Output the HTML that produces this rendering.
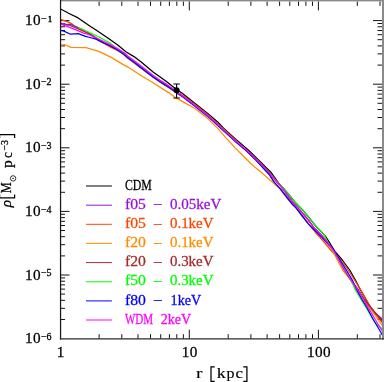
<!DOCTYPE html>
<html><head><meta charset="utf-8"><title>Density profiles</title>
<style>
html,body{margin:0;padding:0;background:#fff;}
body{width:384px;height:382px;overflow:hidden;position:relative;font-family:"Liberation Serif",serif;}
svg text{font-family:"Liberation Serif",serif;}
</style></head><body>
<svg width="384" height="382" viewBox="0 0 384 382" style="position:absolute;left:0;top:0;will-change:transform;transform:translateZ(0)">
<rect x="0" y="0" width="384" height="382" fill="#fff"/>
<path d="M99.1 338.7L99.1 334.2M99.1 1.4L99.1 5.9M121.8 338.7L121.8 334.2M121.8 1.4L121.8 5.9M138.0 338.7L138.0 334.2M138.0 1.4L138.0 5.9M150.5 338.7L150.5 334.2M150.5 1.4L150.5 5.9M160.7 338.7L160.7 334.2M160.7 1.4L160.7 5.9M169.4 338.7L169.4 334.2M169.4 1.4L169.4 5.9M176.8 338.7L176.8 334.2M176.8 1.4L176.8 5.9M183.4 338.7L183.4 334.2M183.4 1.4L183.4 5.9M189.3 338.7L189.3 329.7M189.3 1.4L189.3 10.4M228.2 338.7L228.2 334.2M228.2 1.4L228.2 5.9M250.9 338.7L250.9 334.2M250.9 1.4L250.9 5.9M267.1 338.7L267.1 334.2M267.1 1.4L267.1 5.9M279.6 338.7L279.6 334.2M279.6 1.4L279.6 5.9M289.8 338.7L289.8 334.2M289.8 1.4L289.8 5.9M298.5 338.7L298.5 334.2M298.5 1.4L298.5 5.9M305.9 338.7L305.9 334.2M305.9 1.4L305.9 5.9M312.5 338.7L312.5 334.2M312.5 1.4L312.5 5.9M318.4 338.7L318.4 329.7M318.4 1.4L318.4 10.4M357.3 338.7L357.3 334.2M357.3 1.4L357.3 5.9M380.0 338.7L380.0 334.2M380.0 1.4L380.0 5.9M60.5 319.5L65.0 319.5M382.0 319.5L377.5 319.5M60.5 308.3L65.0 308.3M382.0 308.3L377.5 308.3M60.5 300.3L65.0 300.3M382.0 300.3L377.5 300.3M60.5 294.1L65.0 294.1M382.0 294.1L377.5 294.1M60.5 289.1L65.0 289.1M382.0 289.1L377.5 289.1M60.5 284.9L65.0 284.9M382.0 284.9L377.5 284.9M60.5 281.2L65.0 281.2M382.0 281.2L377.5 281.2M60.5 277.9L65.0 277.9M382.0 277.9L377.5 277.9M60.5 275.0L69.5 275.0M382.0 275.0L373.0 275.0M60.5 255.9L65.0 255.9M382.0 255.9L377.5 255.9M60.5 244.7L65.0 244.7M382.0 244.7L377.5 244.7M60.5 236.7L65.0 236.7M382.0 236.7L377.5 236.7M60.5 230.5L65.0 230.5M382.0 230.5L377.5 230.5M60.5 225.5L65.0 225.5M382.0 225.5L377.5 225.5M60.5 221.3L65.0 221.3M382.0 221.3L377.5 221.3M60.5 217.6L65.0 217.6M382.0 217.6L377.5 217.6M60.5 214.3L65.0 214.3M382.0 214.3L377.5 214.3M60.5 211.4L69.5 211.4M382.0 211.4L373.0 211.4M60.5 192.3L65.0 192.3M382.0 192.3L377.5 192.3M60.5 181.1L65.0 181.1M382.0 181.1L377.5 181.1M60.5 173.1L65.0 173.1M382.0 173.1L377.5 173.1M60.5 166.9L65.0 166.9M382.0 166.9L377.5 166.9M60.5 161.9L65.0 161.9M382.0 161.9L377.5 161.9M60.5 157.7L65.0 157.7M382.0 157.7L377.5 157.7M60.5 154.0L65.0 154.0M382.0 154.0L377.5 154.0M60.5 150.7L65.0 150.7M382.0 150.7L377.5 150.7M60.5 147.8L69.5 147.8M382.0 147.8L373.0 147.8M60.5 128.7L65.0 128.7M382.0 128.7L377.5 128.7M60.5 117.5L65.0 117.5M382.0 117.5L377.5 117.5M60.5 109.5L65.0 109.5M382.0 109.5L377.5 109.5M60.5 103.3L65.0 103.3M382.0 103.3L377.5 103.3M60.5 98.3L65.0 98.3M382.0 98.3L377.5 98.3M60.5 94.1L65.0 94.1M382.0 94.1L377.5 94.1M60.5 90.4L65.0 90.4M382.0 90.4L377.5 90.4M60.5 87.1L65.0 87.1M382.0 87.1L377.5 87.1M60.5 84.2L69.5 84.2M382.0 84.2L373.0 84.2M60.5 65.1L65.0 65.1M382.0 65.1L377.5 65.1M60.5 53.9L65.0 53.9M382.0 53.9L377.5 53.9M60.5 45.9L65.0 45.9M382.0 45.9L377.5 45.9M60.5 39.7L65.0 39.7M382.0 39.7L377.5 39.7M60.5 34.7L65.0 34.7M382.0 34.7L377.5 34.7M60.5 30.5L65.0 30.5M382.0 30.5L377.5 30.5M60.5 26.8L65.0 26.8M382.0 26.8L377.5 26.8M60.5 23.5L65.0 23.5M382.0 23.5L377.5 23.5M60.5 20.6L69.5 20.6M382.0 20.6L373.0 20.6" stroke="#151515" stroke-width="1" fill="none"/>
<g fill="none" stroke-width="1.25" stroke-linejoin="round">
<path d="M60.5 9.0L66.4 12.0L68.6 13.2L78.1 17.9L89.8 26.0L96.0 30.0L108.6 38.6L117.4 44.8L126.2 52.0L134.0 56.6L140.6 61.6L153.1 72.1L165.7 80.9L176.0 89.0L182.6 93.4L195.1 103.5L207.7 113.5L218.0 122.3L223.5 128.2L236.0 139.5L248.6 150.2L257.5 158.9L271.6 173.0L276.5 180.0L280.3 185.2L283.4 188.2L289.7 195.7L296.0 203.3L302.3 209.7L308.6 217.2L316.8 227.3L324.2 234.9L325.4 236.2L328.6 241.2L334.9 251.3L342.3 260.0L349.7 270.0L355.4 280.0L360.5 290.0L366.3 300.0L370.8 308.0L382.0 321.5L383.0 322.6" stroke="#000000"/>
<path d="M60.5 23.3L66.4 24.6L71.0 24.4L74.0 26.0L76.4 27.0L90.0 33.8L102.3 42.2L111.1 46.2L117.4 49.7L123.7 53.8L128.0 57.6L134.0 62.0L140.6 67.1L153.1 76.7L160.7 81.9L165.7 85.0L172.0 89.2L176.0 92.0L182.6 96.1L195.1 105.6L207.7 115.6L218.0 125.0L222.6 129.3L235.1 140.6L247.7 151.3L256.6 160.0L269.1 172.6L275.3 180.0L280.3 185.7L286.6 193.8L294.1 204.0L296.0 205.9L302.3 212.8L308.6 220.4L314.2 228.0L322.3 236.2L328.6 243.7L334.5 252.0L338.9 260.0L344.4 270.0L350.8 280.0L358.6 290.0L365.4 302.0L371.0 308.0L374.0 312.0L382.0 318.7L383.0 319.6" stroke="#9910dd"/>
<path d="M60.5 19.4L70.6 22.9L74.8 26.0L78.9 28.8L85.6 32.0L90.0 34.6L98.6 40.4L111.0 47.4L116.9 50.1L123.2 54.2L127.5 58.0L133.5 62.4L140.1 67.5L152.6 77.1L160.2 82.3L165.2 85.4L171.5 89.6L176.4 91.4L183.0 95.5L195.5 105.0L208.1 115.0L218.4 124.4L223.0 128.7L235.5 140.0L247.2 151.7L256.1 160.4L268.6 173.0L274.0 181.9L280.3 188.8L286.6 197.0L292.2 204.0L296.0 207.8L302.3 216.0L308.6 224.1L311.7 227.5L316.0 233.0L322.3 240.0L328.6 247.5L332.4 252.0L341.0 260.0L348.2 270.0L354.5 280.0L360.8 290.0L366.5 300.0L371.2 308.0L382.0 322.5L383.0 323.7" stroke="#ff4500"/>
<path d="M60.5 45.2L64.4 44.5L71.0 47.4L86.0 47.6L97.9 51.1L101.0 52.4L111.1 57.4L123.7 64.9L128.0 67.1L134.0 71.0L140.6 75.2L153.1 82.8L165.7 90.9L170.0 93.4L176.0 97.9L182.6 101.6L195.1 108.5L207.7 118.5L210.0 120.9L218.0 128.6L222.6 134.1L235.1 147.9L244.0 156.7L250.3 163.0L256.6 168.6L262.8 173.6L269.1 179.3L275.4 184.9L279.2 188.1L286.6 197.0L292.2 204.0L296.0 207.8L302.3 216.0L308.6 224.1L316.0 230.5L322.3 236.8L328.6 244.5L331.0 248.0L333.2 252.0L337.3 260.0L343.0 270.5L350.6 280.0L357.6 290.0L364.2 300.0L369.6 308.0L382.0 325.0L383.0 326.3" stroke="#ff8c00"/>
<path d="M60.5 23.0L70.0 25.5L90.0 34.0L102.3 42.0L111.1 46.0L117.4 49.5L123.7 53.6L128.0 57.4L134.0 61.8L140.6 66.9L153.1 76.5L160.7 81.7L165.7 84.8L172.0 89.0L176.0 91.8L182.6 95.9L195.1 105.4L207.7 115.4L218.0 124.8L222.6 129.1L235.1 140.4L247.7 151.1L256.6 159.8L269.1 172.4L275.3 180.0L280.3 185.7L286.6 193.8L294.1 204.0L296.0 205.9L302.3 212.8L308.6 220.4L314.2 228.0L322.3 236.2L328.6 243.7L334.5 252.0L338.9 260.0L344.4 270.0L350.8 280.0L357.8 290.0L364.8 300.0L371.3 308.0L382.0 320.6L383.0 321.6" stroke="#a52a2a"/>
<path d="M60.5 23.3L66.4 24.6L71.0 24.4L74.0 26.0L76.4 27.0L80.6 28.3L86.0 31.0L98.6 36.7L109.9 43.0L117.4 49.2L123.7 53.6L128.0 57.4L134.0 61.8L140.6 66.9L153.1 76.5L160.7 81.7L165.7 84.8L172.0 89.0L176.0 91.8L182.6 95.9L195.1 105.4L207.7 115.4L218.0 124.8L222.6 129.1L235.1 140.4L247.7 151.1L256.6 159.8L269.1 172.4L275.3 180.0L280.3 185.2L283.4 188.2L289.7 195.7L296.0 203.3L302.3 209.7L308.6 217.2L316.8 227.3L324.2 234.9L328.6 243.7L334.5 252.0L338.9 260.0L344.4 270.0L351.6 281.5L355.4 290.0L361.4 300.0L366.3 308.0L373.3 320.0L377.0 325.0L382.0 328.5L383.0 329.3" stroke="#00ff00"/>
<path d="M60.5 23.3L66.4 24.6L71 24.4L74 26L76.4 27L78.5 27.7" stroke="#9910dd"/>
<path d="M60.5 30.4L63.9 31.1L70.6 34.2L78.1 33.6L85.6 36.3L90.0 37.5L96.0 39.2L102.3 42.3L110.9 46.3L117.2 49.8L123.5 53.9L127.8 57.7L133.8 62.1L140.4 67.2L152.9 76.8L160.5 82.0L165.5 85.1L171.8 89.3L175.5 92.3L182.1 96.4L194.6 105.9L207.2 115.9L217.5 125.3L222.1 129.6L234.6 140.9L247.2 151.6L256.1 160.3L269.1 174.5L274.0 181.9L280.3 188.8L286.6 197.0L292.2 204.0L296.0 207.8L302.3 216.0L308.6 224.1L312.0 227.8L316.0 231.5L322.3 237.8L328.6 244.7L332.5 248.0L340.0 260.0L346.3 270.0L352.3 280.0L356.8 290.0L362.3 300.0L367.2 308.0L373.5 320.0L379.5 330.0L382.0 334.5L383.0 336.0" stroke="#0000ff"/>
<path d="M60.5 24.1L66.4 26.2L74.8 29.4L83.1 32.8L90.0 35.0L102.3 40.7L111.6 45.2L117.9 48.7L124.2 52.8L128.5 56.6L134.5 61.0L141.1 66.1L153.6 75.7L161.2 80.9L166.2 84.0L172.5 88.2L176.0 91.8L182.6 95.9L195.1 105.4L207.7 115.4L218.0 124.8L222.6 129.1L235.1 140.4L247.7 151.1L256.6 159.8L269.1 172.4L275.3 180.0L280.3 185.7L286.6 193.8L294.1 204.0L296.0 205.9L302.3 212.8L308.6 220.4L314.2 228.0L322.3 236.2L328.6 243.7L334.5 252.0L338.9 260.0L344.4 270.0L350.8 280.0L357.8 290.0L363.8 300.0L368.5 308.0L375.5 320.0L382.0 330.5L383.0 332.2" stroke="#ff00ff"/>
</g>
<path d="M176.6 84V98M173.3 84H179.9M173.3 98H179.9" stroke="#000" stroke-width="1.1" fill="none"/><circle cx="176.6" cy="90.2" r="3.05" fill="#000"/>
<rect x="60" y="0" width="324" height="1.4" fill="#8a8a8a"/><rect x="382" y="0" width="2" height="339.4" fill="#8a8a8a"/>
<path d="M60.55 0V339.4" stroke="#1a1a1a" stroke-width="1.25" fill="none"/><path d="M59.9 338.95H384" stroke="#2a2a2a" stroke-width="1.2" fill="none"/>
<path d="M86 186.0H111.9" stroke="#000000" stroke-width="1.0"/>
<text x="124.9" y="189.7" font-size="15.2" textLength="26.9" lengthAdjust="spacingAndGlyphs" fill="#000000" stroke="#000000" stroke-width="0.28">CDM</text>
<path d="M86 205.2H111.9" stroke="#9910dd" stroke-width="1.0"/>
<text x="125.0" y="208.8" font-size="15.2" textLength="20.9" lengthAdjust="spacingAndGlyphs" fill="#9910dd" stroke="#9910dd" stroke-width="0.28">f05</text>
<text x="153.9" y="208.4" font-size="15.2" textLength="7.6" lengthAdjust="spacingAndGlyphs" fill="#9910dd" stroke="#9910dd" stroke-width="0.28">–</text>
<text x="170.0" y="208.8" font-size="15.2" textLength="51.3" lengthAdjust="spacingAndGlyphs" fill="#9910dd" stroke="#9910dd" stroke-width="0.28">0.05keV</text>
<path d="M86 224.3H111.9" stroke="#ff4500" stroke-width="1.0"/>
<text x="125.0" y="228.0" font-size="15.2" textLength="20.9" lengthAdjust="spacingAndGlyphs" fill="#ff4500" stroke="#ff4500" stroke-width="0.28">f05</text>
<text x="153.9" y="227.6" font-size="15.2" textLength="7.6" lengthAdjust="spacingAndGlyphs" fill="#ff4500" stroke="#ff4500" stroke-width="0.28">–</text>
<text x="170.0" y="228.0" font-size="15.2" textLength="43.4" lengthAdjust="spacingAndGlyphs" fill="#ff4500" stroke="#ff4500" stroke-width="0.28">0.1keV</text>
<path d="M86 243.4H111.9" stroke="#ff8c00" stroke-width="1.0"/>
<text x="125.0" y="247.1" font-size="15.2" textLength="20.9" lengthAdjust="spacingAndGlyphs" fill="#ff8c00" stroke="#ff8c00" stroke-width="0.28">f20</text>
<text x="153.9" y="246.7" font-size="15.2" textLength="7.6" lengthAdjust="spacingAndGlyphs" fill="#ff8c00" stroke="#ff8c00" stroke-width="0.28">–</text>
<text x="170.0" y="247.1" font-size="15.2" textLength="43.4" lengthAdjust="spacingAndGlyphs" fill="#ff8c00" stroke="#ff8c00" stroke-width="0.28">0.1keV</text>
<path d="M86 262.6H111.9" stroke="#a52a2a" stroke-width="1.0"/>
<text x="125.0" y="266.3" font-size="15.2" textLength="20.9" lengthAdjust="spacingAndGlyphs" fill="#a52a2a" stroke="#a52a2a" stroke-width="0.28">f20</text>
<text x="153.9" y="265.9" font-size="15.2" textLength="7.6" lengthAdjust="spacingAndGlyphs" fill="#a52a2a" stroke="#a52a2a" stroke-width="0.28">–</text>
<text x="170.0" y="266.3" font-size="15.2" textLength="43.4" lengthAdjust="spacingAndGlyphs" fill="#a52a2a" stroke="#a52a2a" stroke-width="0.28">0.3keV</text>
<path d="M86 281.8H111.9" stroke="#00ff00" stroke-width="1.0"/>
<text x="125.0" y="285.4" font-size="15.2" textLength="20.9" lengthAdjust="spacingAndGlyphs" fill="#00ff00" stroke="#00ff00" stroke-width="0.28">f50</text>
<text x="153.9" y="285.1" font-size="15.2" textLength="7.6" lengthAdjust="spacingAndGlyphs" fill="#00ff00" stroke="#00ff00" stroke-width="0.28">–</text>
<text x="170.0" y="285.4" font-size="15.2" textLength="43.4" lengthAdjust="spacingAndGlyphs" fill="#00ff00" stroke="#00ff00" stroke-width="0.28">0.3keV</text>
<path d="M86 300.9H111.9" stroke="#0000ff" stroke-width="1.0"/>
<text x="125.0" y="304.6" font-size="15.2" textLength="20.9" lengthAdjust="spacingAndGlyphs" fill="#0000ff" stroke="#0000ff" stroke-width="0.28">f80</text>
<text x="153.9" y="304.2" font-size="15.2" textLength="7.6" lengthAdjust="spacingAndGlyphs" fill="#0000ff" stroke="#0000ff" stroke-width="0.28">–</text>
<text x="170.6" y="304.6" font-size="15.2" textLength="30.6" lengthAdjust="spacingAndGlyphs" fill="#0000ff" stroke="#0000ff" stroke-width="0.28">1keV</text>
<path d="M86 320.0H111.9" stroke="#ff00ff" stroke-width="1.0"/>
<text x="124.9" y="323.7" font-size="15.2" textLength="28.2" lengthAdjust="spacingAndGlyphs" fill="#ff00ff" stroke="#ff00ff" stroke-width="0.28">WDM</text>
<text x="160.7" y="323.7" font-size="15.2" textLength="30.6" lengthAdjust="spacingAndGlyphs" fill="#ff00ff" stroke="#ff00ff" stroke-width="0.28">2keV</text>
<text x="25.0" y="25.2" font-size="15.2" fill="#000" stroke="#000" stroke-width="0.28" letter-spacing="0.4">10</text>
<text x="40.9" y="21.7" font-size="10" fill="#000" stroke="#000" stroke-width="0.28">−</text>
<text x="48.0" y="21.5" font-size="8" fill="#000" stroke="#000" stroke-width="0.5">1</text>
<text x="25.0" y="88.8" font-size="15.2" fill="#000" stroke="#000" stroke-width="0.28" letter-spacing="0.4">10</text>
<text x="40.9" y="85.3" font-size="10" fill="#000" stroke="#000" stroke-width="0.28">−2</text>
<text x="25.0" y="152.4" font-size="15.2" fill="#000" stroke="#000" stroke-width="0.28" letter-spacing="0.4">10</text>
<text x="40.9" y="148.9" font-size="10" fill="#000" stroke="#000" stroke-width="0.28">−3</text>
<text x="25.0" y="216.0" font-size="15.2" fill="#000" stroke="#000" stroke-width="0.28" letter-spacing="0.4">10</text>
<text x="40.9" y="212.5" font-size="10" fill="#000" stroke="#000" stroke-width="0.28">−4</text>
<text x="25.0" y="279.6" font-size="15.2" fill="#000" stroke="#000" stroke-width="0.28" letter-spacing="0.4">10</text>
<text x="40.9" y="276.1" font-size="10" fill="#000" stroke="#000" stroke-width="0.28">−5</text>
<text x="25.0" y="343.2" font-size="15.2" fill="#000" stroke="#000" stroke-width="0.28" letter-spacing="0.4">10</text>
<text x="40.9" y="339.7" font-size="10" fill="#000" stroke="#000" stroke-width="0.28">−6</text>
<text x="60.8" y="356.5" font-size="15.2" fill="#000" stroke="#000" stroke-width="0.28" text-anchor="middle" letter-spacing="0.4">1</text>
<text x="189.8" y="356.5" font-size="15.2" fill="#000" stroke="#000" stroke-width="0.28" text-anchor="middle" letter-spacing="0.4">10</text>
<text x="318.9" y="356.5" font-size="15.2" fill="#000" stroke="#000" stroke-width="0.28" text-anchor="middle" letter-spacing="0.4">100</text>
<text x="195.9" y="378.4" font-size="15.2" textLength="6.5" lengthAdjust="spacingAndGlyphs" fill="#000" stroke="#000" stroke-width="0.1">r</text>
<text x="216.8" y="378.4" font-size="15.2" textLength="9.0" lengthAdjust="spacingAndGlyphs" fill="#000" stroke="#000" stroke-width="0.15">k</text>
<text x="226.4" y="378.4" font-size="15.2" textLength="8.0" lengthAdjust="spacingAndGlyphs" fill="#000" stroke="#000" stroke-width="0.15">p</text>
<text x="235.5" y="378.4" font-size="15.2" textLength="7.5" lengthAdjust="spacingAndGlyphs" fill="#000" stroke="#000" stroke-width="0.15">c</text>
<path d="M214.7 366.9H211V381.4H214.7M243.3 366.9H246.9V381.4H243.3" fill="none" stroke="#000" stroke-width="1.25"/>
<g transform="translate(11.9 207.5) rotate(-90)"><text x="0.2" y="-0.5" font-size="15.2" fill="#000" stroke="#000" stroke-width="0.28" font-style="italic">ρ</text><path d="M12.9 -12.3H9.7V2.7H12.9M69.6 -12.3H72.8V2.7H69.6" fill="none" stroke="#000" stroke-width="1.25"/><text x="14.2" y="-0.9" font-size="15.2" textLength="11.0" lengthAdjust="spacingAndGlyphs" fill="#000" stroke="#000" stroke-width="0.28">M</text><circle cx="29.1" cy="1.2" r="2.7" fill="none" stroke="#000" stroke-width="0.8"/><circle cx="29.1" cy="1.2" r="0.7" fill="#000"/><text x="39.5" y="0.0" font-size="15.2" textLength="7.8" lengthAdjust="spacingAndGlyphs" fill="#000" stroke="#000" stroke-width="0.28">p</text><text x="49.5" y="0.0" font-size="15.2" textLength="5.9" lengthAdjust="spacingAndGlyphs" fill="#000" stroke="#000" stroke-width="0.28">c</text><text x="56.9" y="-3.8" font-size="10" fill="#000" stroke="#000" stroke-width="0.28">−3</text></g>
</svg>
</body></html>
